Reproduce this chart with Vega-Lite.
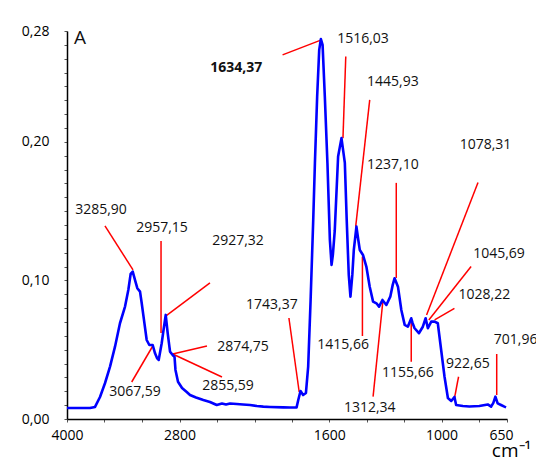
{
  "$schema": "https://vega.github.io/schema/vega-lite/v6.json",
  "width": 440,
  "height": 388,
  "autosize": {"type": "none"},
  "padding": {"left": 67, "top": 31, "right": 29, "bottom": 40},
  "background": "white",
  "config": {"view": {"stroke": null}, "font": "Open Sans", "axis": {"labelOverlap": false, "labelFlush": false, "labelBound": false}},
  "datasets": {
    "spec": [
      {"wn": 4000, "a": 0.0079}, {"wn": 3861, "a": 0.0079}, {"wn": 3755, "a": 0.0079}, {"wn": 3701, "a": 0.0087},
      {"wn": 3648, "a": 0.0159}, {"wn": 3595, "a": 0.0258}, {"wn": 3541, "a": 0.0378}, {"wn": 3488, "a": 0.0522},
      {"wn": 3435, "a": 0.0691}, {"wn": 3381, "a": 0.0811}, {"wn": 3346, "a": 0.0931}, {"wn": 3321, "a": 0.1047},
      {"wn": 3299, "a": 0.1064}, {"wn": 3275, "a": 0.1004}, {"wn": 3250, "a": 0.0944}, {"wn": 3221, "a": 0.0919},
      {"wn": 3203, "a": 0.0835}, {"wn": 3179, "a": 0.0715}, {"wn": 3150, "a": 0.0570}, {"wn": 3122, "a": 0.0534},
      {"wn": 3086, "a": 0.0534}, {"wn": 3061, "a": 0.0474}, {"wn": 3040, "a": 0.0440}, {"wn": 3022, "a": 0.0426},
      {"wn": 2990, "a": 0.0547}, {"wn": 2973, "a": 0.0630}, {"wn": 2947, "a": 0.0751}, {"wn": 2926, "a": 0.0619},
      {"wn": 2901, "a": 0.0486}, {"wn": 2873, "a": 0.0462}, {"wn": 2853, "a": 0.0448}, {"wn": 2843, "a": 0.0354},
      {"wn": 2816, "a": 0.0269}, {"wn": 2773, "a": 0.0224}, {"wn": 2723, "a": 0.0195}, {"wn": 2688, "a": 0.0173},
      {"wn": 2624, "a": 0.0155}, {"wn": 2546, "a": 0.0137}, {"wn": 2475, "a": 0.0123}, {"wn": 2403, "a": 0.0101},
      {"wn": 2347, "a": 0.0112}, {"wn": 2304, "a": 0.0105}, {"wn": 2261, "a": 0.0112}, {"wn": 2190, "a": 0.0108},
      {"wn": 2123, "a": 0.0105}, {"wn": 2048, "a": 0.0101}, {"wn": 1987, "a": 0.0094}, {"wn": 1953, "a": 0.0089},
      {"wn": 1917, "a": 0.0087}, {"wn": 1846, "a": 0.0084}, {"wn": 1811, "a": 0.0083}, {"wn": 1775, "a": 0.0084},
      {"wn": 1766, "a": 0.0137}, {"wn": 1754, "a": 0.0202}, {"wn": 1740, "a": 0.0173}, {"wn": 1725, "a": 0.0188},
      {"wn": 1713, "a": 0.0378}, {"wn": 1700, "a": 0.0859}, {"wn": 1686, "a": 0.1437}, {"wn": 1677, "a": 0.1848},
      {"wn": 1665, "a": 0.2327}, {"wn": 1654, "a": 0.2664}, {"wn": 1645, "a": 0.2742}, {"wn": 1636, "a": 0.2700},
      {"wn": 1624, "a": 0.2327}, {"wn": 1610, "a": 0.1846}, {"wn": 1597, "a": 0.1292}, {"wn": 1588, "a": 0.1112},
      {"wn": 1581, "a": 0.1184}, {"wn": 1571, "a": 0.1357}, {"wn": 1553, "a": 0.1894}, {"wn": 1535, "a": 0.2027},
      {"wn": 1517, "a": 0.1848}, {"wn": 1507, "a": 0.1437}, {"wn": 1496, "a": 0.1040}, {"wn": 1487, "a": 0.0883},
      {"wn": 1477, "a": 0.1040}, {"wn": 1469, "a": 0.1220}, {"wn": 1455, "a": 0.1388}, {"wn": 1445, "a": 0.1292},
      {"wn": 1437, "a": 0.1220}, {"wn": 1420, "a": 0.1184}, {"wn": 1402, "a": 0.1100}, {"wn": 1384, "a": 0.0955},
      {"wn": 1366, "a": 0.0847}, {"wn": 1348, "a": 0.0835}, {"wn": 1334, "a": 0.0811}, {"wn": 1316, "a": 0.0859},
      {"wn": 1295, "a": 0.0823}, {"wn": 1274, "a": 0.0883}, {"wn": 1261, "a": 0.0968}, {"wn": 1251, "a": 0.1016},
      {"wn": 1243, "a": 0.0989}, {"wn": 1233, "a": 0.0955}, {"wn": 1215, "a": 0.0787}, {"wn": 1197, "a": 0.0679},
      {"wn": 1180, "a": 0.0666}, {"wn": 1162, "a": 0.0727}, {"wn": 1155, "a": 0.0693}, {"wn": 1144, "a": 0.0655},
      {"wn": 1121, "a": 0.0619}, {"wn": 1100, "a": 0.0666}, {"wn": 1085, "a": 0.0727}, {"wn": 1073, "a": 0.0655},
      {"wn": 1055, "a": 0.0703}, {"wn": 1037, "a": 0.0703}, {"wn": 1020, "a": 0.0691}, {"wn": 1002, "a": 0.0498},
      {"wn": 984, "a": 0.0305}, {"wn": 966, "a": 0.0152}, {"wn": 948, "a": 0.0130}, {"wn": 931, "a": 0.0159},
      {"wn": 922, "a": 0.0101}, {"wn": 886, "a": 0.0094}, {"wn": 851, "a": 0.0090}, {"wn": 798, "a": 0.0094},
      {"wn": 753, "a": 0.0105}, {"wn": 735, "a": 0.0089}, {"wn": 723, "a": 0.0116}, {"wn": 712, "a": 0.0161},
      {"wn": 700, "a": 0.0113}, {"wn": 682, "a": 0.0101}, {"wn": 664, "a": 0.0089}, {"wn": 655, "a": 0.0084}
    ],
    "ann": [
      {"x1": 3595, "y1": 0.1394, "x2": 3296, "y2": 0.1076},
      {"x1": 2997, "y1": 0.1285, "x2": 2997, "y2": 0.0621},
      {"x1": 2475, "y1": 0.0982, "x2": 2944, "y2": 0.0744},
      {"x1": 2507, "y1": 0.0527, "x2": 2873, "y2": 0.0469},
      {"x1": 2347, "y1": 0.0303, "x2": 2873, "y2": 0.0469},
      {"x1": 3310, "y1": 0.0267, "x2": 3079, "y2": 0.0534},
      {"x1": 1816, "y1": 0.0729, "x2": 1761, "y2": 0.0195},
      {"x1": 1850, "y1": 0.2628, "x2": 1642, "y2": 0.2736},
      {"x1": 1512, "y1": 0.2616, "x2": 1527, "y2": 0.2027},
      {"x1": 1384, "y1": 0.2303, "x2": 1459, "y2": 0.1388},
      {"x1": 1423, "y1": 0.1172, "x2": 1423, "y2": 0.0599},
      {"x1": 1366, "y1": 0.0161, "x2": 1313, "y2": 0.0859},
      {"x1": 1242, "y1": 0.1704, "x2": 1242, "y2": 0.1018},
      {"x1": 1162, "y1": 0.0414, "x2": 1162, "y2": 0.0729},
      {"x1": 805, "y1": 0.1706, "x2": 1080, "y2": 0.0751},
      {"x1": 842, "y1": 0.1100, "x2": 1068, "y2": 0.0715},
      {"x1": 931, "y1": 0.0799, "x2": 1037, "y2": 0.0715},
      {"x1": 909, "y1": 0.0305, "x2": 931, "y2": 0.0149},
      {"x1": 705, "y1": 0.0469, "x2": 705, "y2": 0.0173}
    ],
    "labels": [
      {"x": 3637, "y": 0.1509, "t": "3285,90", "bold": false},
      {"x": 2987, "y": 0.1379, "t": "2957,15", "bold": false},
      {"x": 2176, "y": 0.1285, "t": "2927,32", "bold": false},
      {"x": 2123, "y": 0.0520, "t": "2874,75", "bold": false},
      {"x": 2283, "y": 0.0238, "t": "2855,59", "bold": false},
      {"x": 3275, "y": 0.0195, "t": "3067,59", "bold": false},
      {"x": 1907, "y": 0.0823, "t": "1743,37", "bold": false},
      {"x": 2195, "y": 0.2532, "t": "1634,37", "bold": true},
      {"x": 1420, "y": 0.2744, "t": "1516,03", "bold": false},
      {"x": 1260, "y": 0.2433, "t": "1445,93", "bold": false},
      {"x": 1526, "y": 0.0534, "t": "1415,66", "bold": false},
      {"x": 1384, "y": 0.0079, "t": "1312,34", "bold": false},
      {"x": 1260, "y": 0.1834, "t": "1237,10", "bold": false},
      {"x": 1180, "y": 0.0332, "t": "1155,66", "bold": false},
      {"x": 765, "y": 0.1978, "t": "1078,31", "bold": false},
      {"x": 693, "y": 0.1191, "t": "1045,69", "bold": false},
      {"x": 771, "y": 0.0895, "t": "1028,22", "bold": false},
      {"x": 859, "y": 0.0397, "t": "922,65", "bold": false},
      {"x": 604, "y": 0.0570, "t": "701,96", "bold": false}
    ],
    "panel": [{"x": 3861, "y": 0.2751, "t": "A"}]
  },
  "encoding": {
    "x": {
      "type": "quantitative",
      "scale": {"domain": [4000, 2000, 650], "range": [0, 187.5, 440]},
      "axis": {
        "title": "cm⁻¹", "titleFontSize": 19, "titleFontWeight": "normal", "titleColor": "#000",
        "titleX": 444, "titleY": 37, "titleAlign": "center", "titleBaseline": "alphabetic",
        "values": [4000, 3600, 3200, 2800, 2400, 2000, 1800, 1600, 1400, 1200, 1000, 800, 650],
        "labelExpr": "(datum.value == 4000 || datum.value == 2800 || datum.value == 1600 || datum.value == 1000 || datum.value == 650) ? datum.value + '' : ''",
        "labelFontSize": 14, "labelColor": "#000", "labelPadding": 6, "labelFlush": false, "labelOverlap": false,
        "labelOffset": {"condition": {"test": "datum.value == 650", "value": -6}, "value": 0},
        "tickSize": 3, "tickColor": "#555", "domainColor": "#000", "domainWidth": 1.5, "grid": false
      }
    },
    "y": {
      "type": "quantitative",
      "scale": {"domain": [0, 0.28], "nice": false},
      "axis": {
        "title": null,
        "values": [0, 0.01, 0.02, 0.03, 0.04, 0.05, 0.06, 0.07, 0.08, 0.09, 0.1, 0.11, 0.12, 0.13, 0.14, 0.15, 0.16, 0.17, 0.18, 0.19, 0.2, 0.21, 0.22, 0.23, 0.24, 0.25, 0.26, 0.27, 0.28],
        "labelExpr": "(abs(datum.value) < 0.001 || abs(datum.value - 0.1) < 0.001 || abs(datum.value - 0.2) < 0.001 || abs(datum.value - 0.28) < 0.001) ? replace(format(datum.value, '.2f'), '.', ',') : ''",
        "labelFontSize": 14, "labelColor": "#000", "labelPadding": 15, "labelOverlap": false, "labelFlush": false,
        "tickSize": 3, "tickColor": "#555", "domainColor": "#000", "domainWidth": 1.5, "grid": false
      }
    }
  },
  "layer": [
    {
      "data": {"name": "ann"},
      "mark": {"type": "rule", "color": "#ff0000", "strokeWidth": 1.5},
      "encoding": {
        "x": {"field": "x1", "type": "quantitative"},
        "x2": {"field": "x2"},
        "y": {"field": "y1", "type": "quantitative"},
        "y2": {"field": "y2"}
      }
    },
    {
      "data": {"name": "spec"},
      "mark": {"type": "line", "color": "#0000ff", "strokeWidth": 2.6, "strokeJoin": "round"},
      "encoding": {
        "x": {"field": "wn", "type": "quantitative"},
        "y": {"field": "a", "type": "quantitative"}
      }
    },
    {
      "data": {"name": "labels"},
      "transform": [{"filter": "!datum.bold"}],
      "mark": {"type": "text", "fontSize": 14, "color": "#111", "align": "center", "baseline": "middle"},
      "encoding": {
        "x": {"field": "x", "type": "quantitative"},
        "y": {"field": "y", "type": "quantitative"},
        "text": {"field": "t"}
      }
    },
    {
      "data": {"name": "labels"},
      "transform": [{"filter": "datum.bold"}],
      "mark": {"type": "text", "fontSize": 14, "fontWeight": "bold", "color": "#111", "align": "center", "baseline": "middle"},
      "encoding": {
        "x": {"field": "x", "type": "quantitative"},
        "y": {"field": "y", "type": "quantitative"},
        "text": {"field": "t"}
      }
    },
    {
      "data": {"name": "panel"},
      "mark": {"type": "text", "fontSize": 19, "color": "#111", "align": "center", "baseline": "middle"},
      "encoding": {
        "x": {"field": "x", "type": "quantitative"},
        "y": {"field": "y", "type": "quantitative"},
        "text": {"field": "t"}
      }
    }
  ]
}
